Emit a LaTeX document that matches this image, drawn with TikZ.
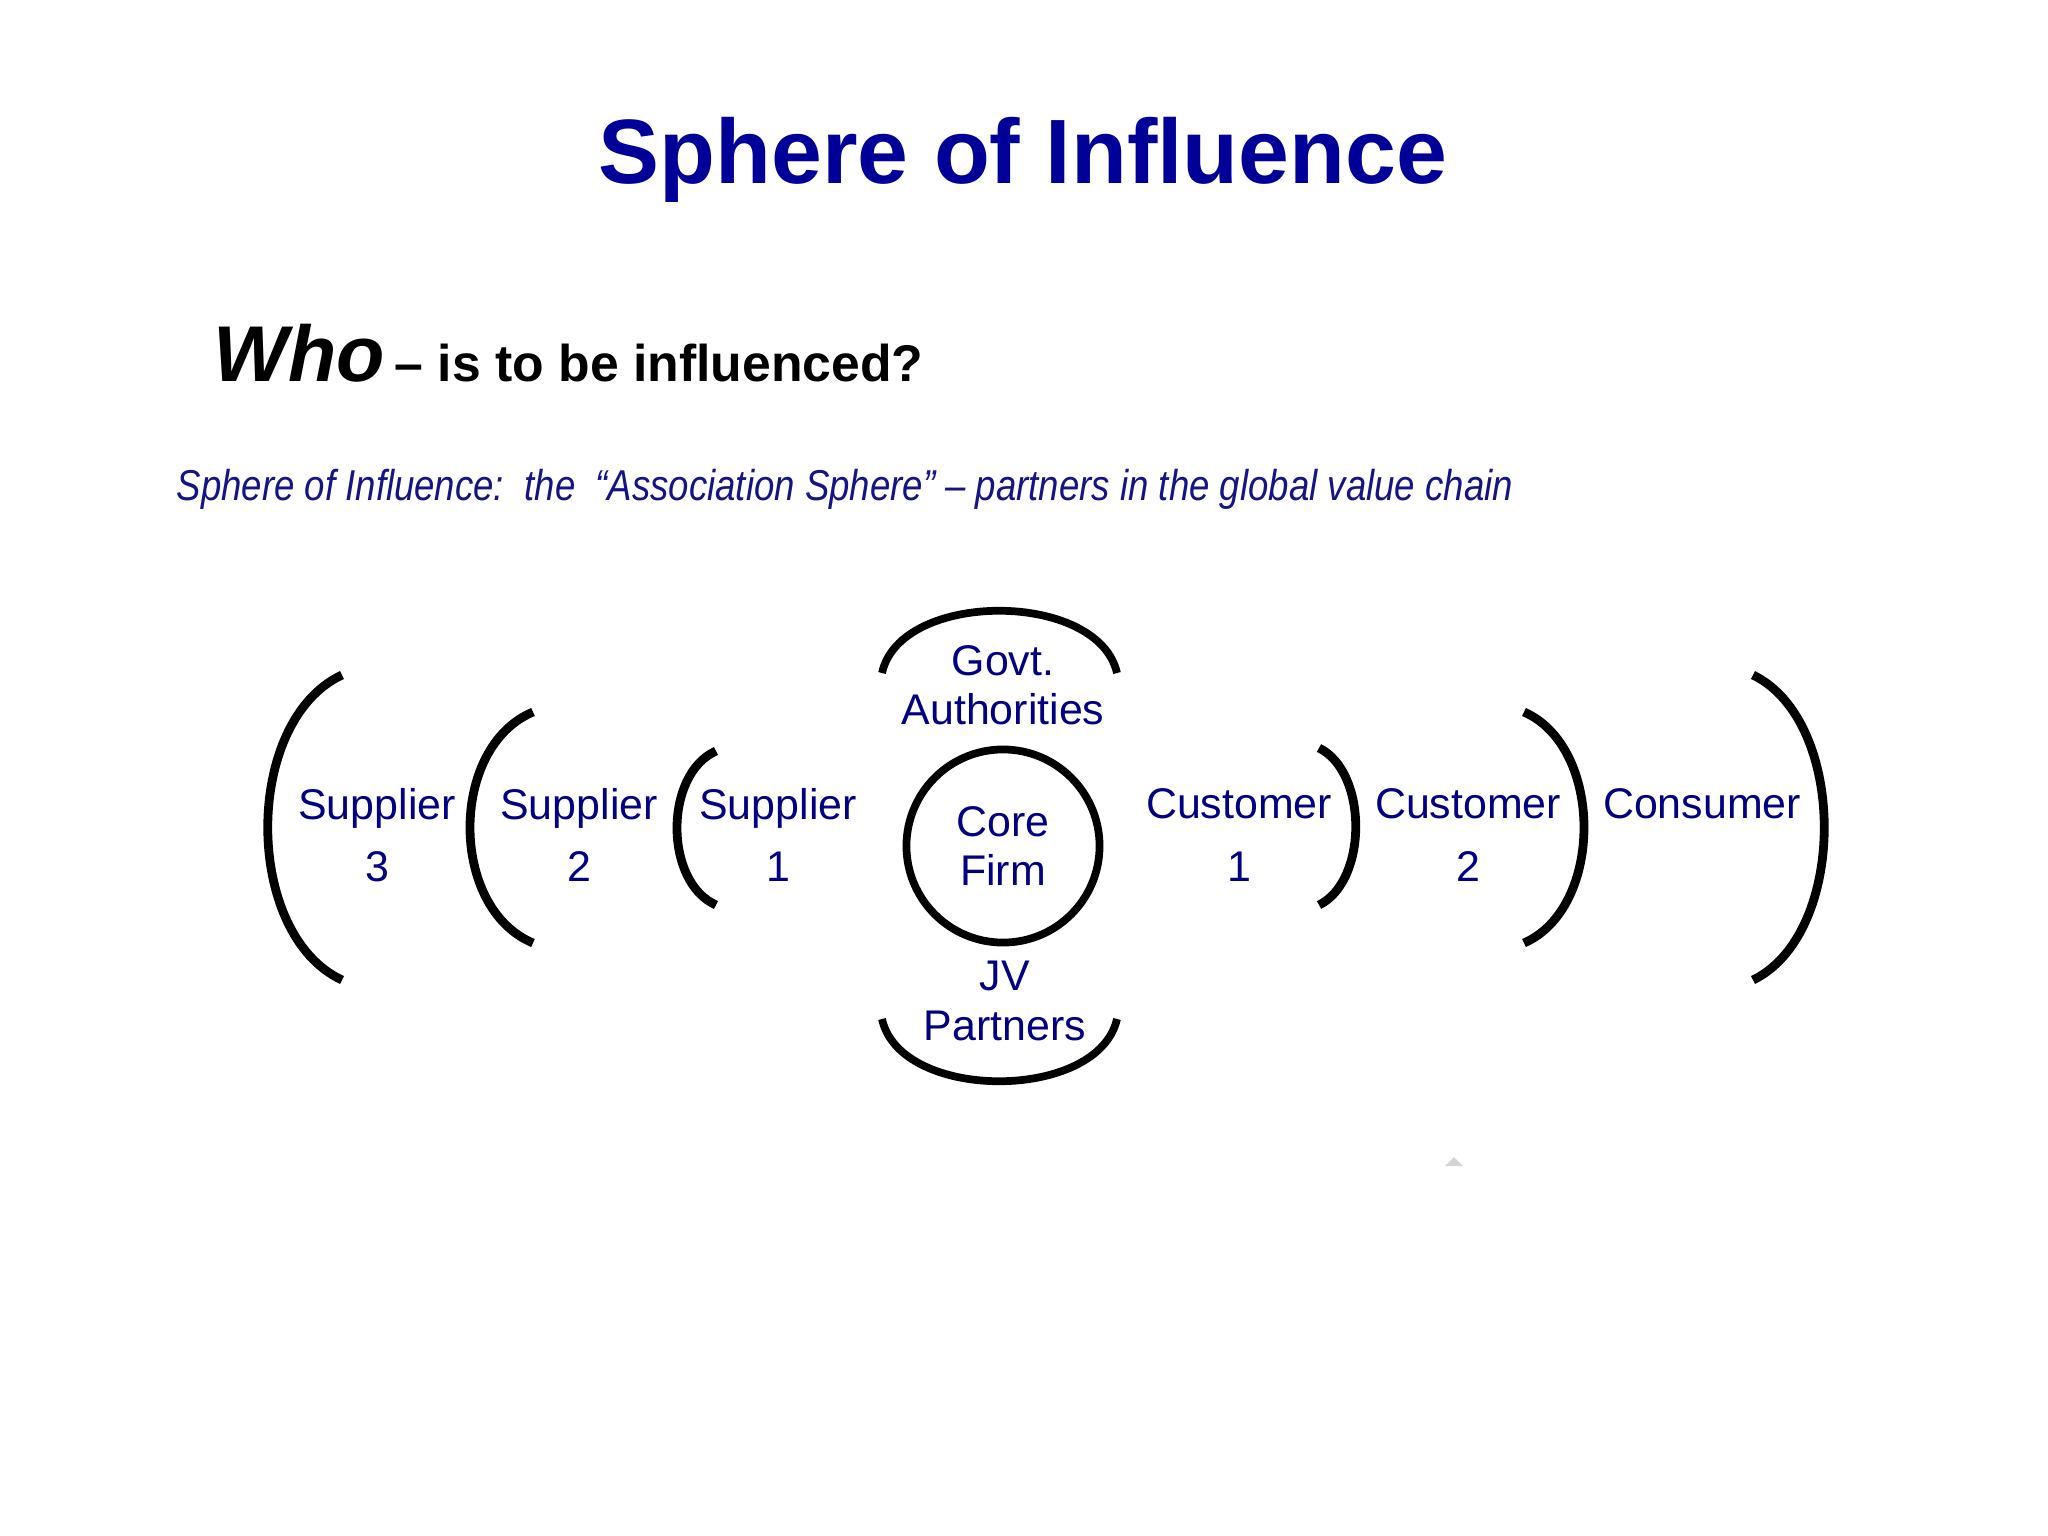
\documentclass[tikz,border=0pt]{standalone}
\usepackage{fontspec}
\setmainfont{Liberation Sans}
\definecolor{titleblue}{RGB}{0,0,153}
\definecolor{labelblue}{RGB}{0,0,128}
\definecolor{subblue}{RGB}{20,20,130}
\begin{document}
\begin{tikzpicture}[x=0.01cm,y=-0.01cm,
  arcline/.style={line width=2.2pt},
  paren/.style={line width=2.5pt},
  lbl/.style={text=labelblue,align=center,inner sep=0pt,font=\fontsize{12.2}{14}\selectfont}]
\useasboundingbox[fill=white] (0,0) rectangle (2048,1536);

% headings
\node (title) at (1023,183) [anchor=base,text=titleblue,font=\fontsize{26}{30}\selectfont\bfseries] {Sphere of Influence};
\node (who) at (213,381) [anchor=base west,inner sep=0pt] {{\fontsize{22.5}{26}\selectfont\bfseries\itshape Who} {\fontsize{14.7}{18}\selectfont\bfseries – is to be influenced?}};
\node (sub) at (176,500) [anchor=base west,inner sep=0pt,text=subblue,font=\fontsize{10.5}{12}\selectfont\itshape] {\scalebox{1}[1.18]{\resizebox{380pt}{!}{Sphere of Influence:\ \ the\ \ “Association Sphere” – partners in the global value chain}}};

% labels
\node (sup3) at (377,835) [lbl] {Supplier\\[3.8pt]3};
\node (sup2) at (579,835) [lbl] {Supplier\\[3.8pt]2};
\node (sup1) at (778,835) [lbl] {Supplier\\[3.8pt]1};
\node (core) at (1003,846) [draw,circle,arcline,minimum size=1.93cm,lbl] {Core\\Firm};
\node (govt) at (1003,685) [lbl] {Govt.\\Authorities};
\node (jv) at (1005,1001) [lbl] {JV\\Partners};
\node (cus1) at (1239,835) [lbl] {Customer\\[3.8pt]1};
\node (cus2) at (1468,835) [lbl] {Customer\\[3.8pt]2};
\node (cons) at (1702,804) [lbl] {Consumer};

% brackets
\draw[paren] (342,675) .. controls (243,721) and (243,934) .. (342,980);
\draw[paren] (533,712) .. controls (449,747) and (449,908) .. (533,943);
\draw[paren] (716,751) .. controls (664,774) and (664,882) .. (716,905);
\draw[paren] (1319,748) .. controls (1368,772) and (1368,881) .. (1319,905);
\draw[paren] (1524,712) .. controls (1604,747) and (1604,908) .. (1524,943);
\draw[paren] (1753,675) .. controls (1848,721) and (1848,934) .. (1753,980);
\draw[arcline] (882,673) .. controls (900,590) and (1098,590) .. (1117,673);
\draw[arcline] (882,1019) .. controls (900,1102) and (1098,1102) .. (1117,1019);

\fill[black!17] (1445,1166) -- (1454,1157) -- (1463,1166) -- cycle;
\end{tikzpicture}
\end{document}
